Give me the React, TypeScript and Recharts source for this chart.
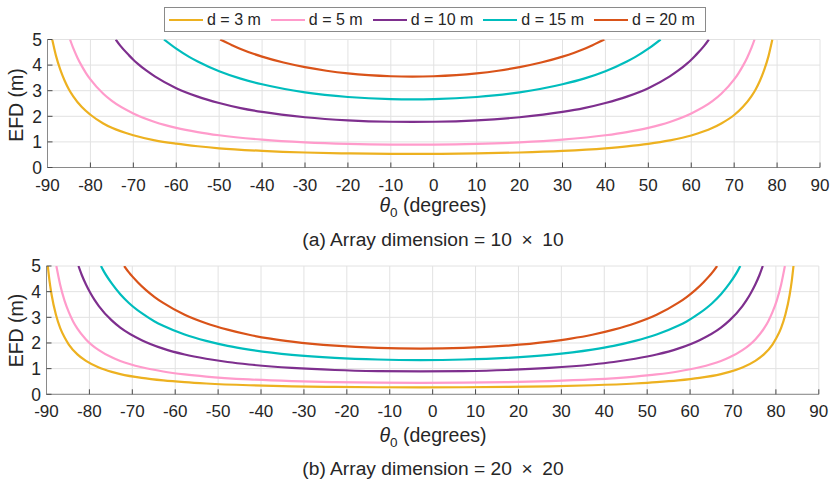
import React from 'react';
import { LineChart, Line, XAxis, YAxis, CartesianGrid } from 'recharts';

const X_TICKS = [-90, -80, -70, -60, -50, -40, -30, -20, -10, 0, 10, 20, 30, 40, 50, 60, 70, 80, 90];
const Y_TICKS = [0, 1, 2, 3, 4, 5];

const SERIES_NAMES = ['d = 3 m', 'd = 5 m', 'd = 10 m', 'd = 15 m', 'd = 20 m'];
const SERIES_COLORS = ['#EDB120', '#FF9BCB', '#7E2F8E', '#00BDBD', '#D95319'];

// Panel (a): array 10 x 10 — [theta0 (deg), EFD (m)]
const A_D3: [number, number][] = [
  [-88.9, 5], [-88, 4.35], [-87, 3.81], [-86, 3.39], [-85, 3.05], [-84, 2.78], [-82, 2.36], [-80, 2.06],
  [-77, 1.72], [-75, 1.55], [-70, 1.26], [-65, 1.06], [-60, 0.93], [-55, 0.83], [-50, 0.75], [-40, 0.65],
  [-30, 0.585], [-20, 0.55], [-10, 0.532], [-5, 0.53], [0, 0.532], [10, 0.55], [20, 0.585], [30, 0.647],
  [40, 0.75], [45, 0.825], [50, 0.924], [55, 1.06], [60, 1.25], [65, 1.55], [67, 1.72], [70, 2.05],
  [72, 2.36], [74, 2.78], [75, 3.05], [76, 3.39], [77, 3.81], [78, 4.35], [78.9, 5],
];
const A_D5: [number, number][] = [
  [-84.75, 5], [-84, 4.66], [-83, 4.28], [-82, 3.96], [-81, 3.68], [-80, 3.44], [-77, 2.88], [-75, 2.6],
  [-70, 2.11], [-65, 1.78], [-60, 1.55], [-55, 1.385], [-50, 1.259], [-40, 1.087], [-30, 0.982], [-20, 0.921],
  [-10, 0.893], [-5, 0.89], [0, 0.893], [10, 0.921], [20, 0.982], [30, 1.087], [40, 1.259], [45, 1.385],
  [50, 1.55], [55, 1.78], [60, 2.11], [65, 2.6], [67, 2.88], [70, 3.44], [71, 3.68], [72, 3.96], [73, 4.28],
  [74, 4.66], [74.75, 5],
];
const A_D10: [number, number][] = [
  [-74.1, 5], [-73, 4.75], [-71, 4.38], [-70, 4.21], [-69, 4.06], [-67, 3.79], [-65, 3.56], [-60, 3.1],
  [-55, 2.77], [-50, 2.52], [-45, 2.32], [-40, 2.17], [-30, 1.964], [-20, 1.843], [-10, 1.787], [-5, 1.78],
  [0, 1.787], [10, 1.843], [20, 1.964], [30, 2.17], [35, 2.32], [40, 2.52], [45, 2.77], [50, 3.1], [55, 3.56],
  [57, 3.79], [59, 4.06], [60, 4.21], [61, 4.38], [63, 4.75], [64.1, 5],
];
const A_D15: [number, number][] = [
  [-62.86, 5], [-60, 4.64], [-57, 4.32], [-55, 4.14], [-50, 3.76], [-45, 3.47], [-40, 3.25], [-30, 2.935],
  [-20, 2.754], [-10, 2.67], [-5, 2.66], [0, 2.67], [10, 2.754], [20, 2.935], [30, 3.25], [35, 3.47],
  [40, 3.76], [45, 4.14], [47, 4.32], [50, 4.64], [52.86, 5],
];
const A_D20: [number, number][] = [
  [-49.77, 5], [-47, 4.78], [-45, 4.63], [-40, 4.33], [-35, 4.1], [-30, 3.92], [-25, 3.78], [-20, 3.675],
  [-10, 3.564], [-5, 3.55], [0, 3.564], [10, 3.675], [15, 3.78], [20, 3.92], [25, 4.1], [30, 4.33],
  [35, 4.63], [37, 4.78], [39.77, 5],
];

// Panel (b): array 20 x 20
const B_D3: [number, number][] = [
  [-89.7, 5], [-89.3, 4.42], [-88.8, 3.87], [-87.8, 3.1], [-86.8, 2.58], [-85.8, 2.22], [-84.8, 1.94],
  [-82.8, 1.555], [-80.8, 1.3], [-77.8, 1.043], [-74.8, 0.874], [-72.8, 0.789], [-67.8, 0.639], [-62.8, 0.54],
  [-57.8, 0.471], [-52.8, 0.42], [-42.8, 0.352], [-32.8, 0.312], [-22.8, 0.287], [-12.8, 0.274], [-2.8, 0.27],
  [7.2, 0.274], [17.2, 0.287], [27.2, 0.312], [37.2, 0.352], [47.2, 0.42], [52.2, 0.471], [57.2, 0.54],
  [62.2, 0.639], [67.2, 0.789], [69.2, 0.874], [72.2, 1.043], [75.2, 1.3], [77.2, 1.555], [79.2, 1.94],
  [80.2, 2.22], [81.2, 2.58], [82.2, 3.1], [83.2, 3.87], [83.7, 4.42], [84.1, 5],
];
const B_D5: [number, number][] = [
  [-87.7, 5], [-86.8, 4.26], [-85.8, 3.65], [-84.8, 3.2], [-83.8, 2.84], [-82.8, 2.56], [-80.8, 2.14],
  [-77.8, 1.72], [-74.8, 1.44], [-72.8, 1.3], [-67.8, 1.053], [-62.8, 0.89], [-57.8, 0.776], [-52.8, 0.692],
  [-42.8, 0.581], [-32.8, 0.514], [-22.8, 0.474], [-12.8, 0.452], [-2.8, 0.445], [7.2, 0.452], [17.2, 0.474],
  [27.2, 0.514], [37.2, 0.581], [47.2, 0.692], [52.2, 0.776], [57.2, 0.89], [62.2, 1.053], [67.2, 1.3],
  [69.2, 1.44], [72.2, 1.72], [75.2, 2.14], [77.2, 2.56], [78.2, 2.84], [79.2, 3.2], [80.2, 3.65],
  [81.2, 4.26], [82.1, 5],
];
const B_D10: [number, number][] = [
  [-82.55, 5], [-81.8, 4.66], [-80.8, 4.28], [-79.8, 3.96], [-78.8, 3.68], [-77.8, 3.44], [-74.8, 2.88],
  [-72.8, 2.6], [-67.8, 2.11], [-62.8, 1.78], [-57.8, 1.55], [-52.8, 1.385], [-47.8, 1.259], [-42.8, 1.162],
  [-32.8, 1.028], [-22.8, 0.947], [-12.8, 0.904], [-2.8, 0.89], [7.2, 0.904], [17.2, 0.947], [27.2, 1.028],
  [37.2, 1.162], [42.2, 1.259], [47.2, 1.385], [52.2, 1.55], [57.2, 1.78], [62.2, 2.11], [67.2, 2.6],
  [69.2, 2.88], [72.2, 3.44], [73.2, 3.68], [74.2, 3.96], [75.2, 4.28], [76.2, 4.66], [76.95, 5],
];
const B_D15: [number, number][] = [
  [-77.3, 5], [-76.8, 4.84], [-74.8, 4.32], [-72.8, 3.9], [-70.8, 3.56], [-67.8, 3.16], [-64.8, 2.84],
  [-62.8, 2.67], [-57.8, 2.33], [-52.8, 2.08], [-47.8, 1.888], [-42.8, 1.743], [-32.8, 1.54], [-22.8, 1.42],
  [-12.8, 1.356], [-2.8, 1.335], [7.2, 1.356], [17.2, 1.42], [27.2, 1.54], [37.2, 1.743], [42.2, 1.888],
  [47.2, 2.08], [52.2, 2.33], [57.2, 2.67], [59.2, 2.84], [62.2, 3.16], [65.2, 3.56], [67.2, 3.9],
  [69.2, 4.32], [71.2, 4.84], [71.7, 5],
];
const B_D20: [number, number][] = [
  [-71.9, 5], [-70.8, 4.75], [-68.8, 4.38], [-66.8, 4.06], [-64.8, 3.79], [-62.8, 3.56], [-57.8, 3.1],
  [-52.8, 2.77], [-47.8, 2.52], [-42.8, 2.32], [-37.8, 2.17], [-32.8, 2.055], [-22.8, 1.894], [-12.8, 1.807],
  [-2.8, 1.78], [7.2, 1.807], [17.2, 1.894], [27.2, 2.055], [32.2, 2.17], [37.2, 2.32], [42.2, 2.52],
  [47.2, 2.77], [52.2, 3.1], [57.2, 3.56], [59.2, 3.79], [61.2, 4.06], [63.2, 4.38], [65.2, 4.75], [66.3, 5],
];

const PANEL_A = [A_D3, A_D5, A_D10, A_D15, A_D20];
const PANEL_B = [B_D3, B_D5, B_D10, B_D15, B_D20];

const FONT = '"Liberation Sans", Arial, Helvetica, sans-serif';
const TXT = '#262626';
const BOX = '#8a8a8a';
const TICKC = '#4a4a4a';
const GRID = '#e2e2e2';

const toPts = (a: [number, number][]) => a.map(([t, v]) => ({ t, v }));

type PanelProps = {
  series: [number, number][][];
  height: number;
  margin: { top: number; right: number; bottom: number; left: number };
};

const Y_AXIS_W = 40;

function Panel({ series, height, margin }: PanelProps) {
  return (
    <LineChart width={830} height={height} margin={{ ...margin, left: margin.left - Y_AXIS_W }}>
      <CartesianGrid stroke={GRID} strokeWidth={1} />
      <XAxis
        dataKey="t"
        type="number"
        domain={[-90, 90]}
        ticks={X_TICKS}
        interval={0}
        allowDataOverflow
        height={30}
        tickSize={-5}
        tickMargin={16}
        axisLine={{ stroke: BOX }}
        tickLine={{ stroke: TICKC }}
        tick={{ fill: TXT, fontSize: 17, fontFamily: FONT }}
      />
      <XAxis
        xAxisId="top"
        orientation="top"
        type="number"
        domain={[-90, 90]}
        ticks={X_TICKS}
        interval={0}
        allowDataOverflow
        height={0}
        tickSize={-5}
        tick={false}
        axisLine={{ stroke: BOX }}
        tickLine={{ stroke: TICKC }}
      />
      <YAxis
        type="number"
        domain={[0, 5]}
        ticks={Y_TICKS}
        interval={0}
        allowDataOverflow
        width={Y_AXIS_W}
        tickSize={-5}
        tickMargin={10.5}
        axisLine={{ stroke: BOX }}
        tickLine={{ stroke: TICKC }}
        tick={{ fill: TXT, fontSize: 17.5, fontFamily: FONT }}
      />
      <YAxis
        yAxisId="right"
        orientation="right"
        type="number"
        domain={[0, 5]}
        ticks={Y_TICKS}
        interval={0}
        allowDataOverflow
        width={0}
        tickSize={-5}
        tick={false}
        axisLine={{ stroke: BOX }}
        tickLine={{ stroke: TICKC }}
      />
      {series.map((s, i) => (
        <Line
          key={SERIES_NAMES[i]}
          data={toPts(s)}
          dataKey="v"
          name={SERIES_NAMES[i]}
          type="monotone"
          stroke={SERIES_COLORS[i]}
          strokeWidth={2.2}
          dot={false}
          activeDot={false}
          isAnimationActive={false}
        />
      ))}
    </LineChart>
  );
}

function LegendBox() {
  return (
    <div
      style={{
        position: 'absolute',
        left: 164,
        top: 7,
        width: 536,
        height: 23,
        border: `1px solid ${BOX}`,
        background: '#fff',
        display: 'flex',
        alignItems: 'center',
        paddingLeft: 4,
        boxSizing: 'content-box',
        fontFamily: FONT,
        fontSize: 16,
        color: TXT,
        whiteSpace: 'nowrap',
      }}
    >
      {SERIES_NAMES.map((n, i) => (
        <div key={n} style={{ display: 'flex', alignItems: 'center', marginRight: 10 }}>
          <svg width={34} height={4} style={{ display: 'block' }}>
            <line x1={0} y1={2} x2={34} y2={2} stroke={SERIES_COLORS[i]} strokeWidth={2.2} />
          </svg>
          <span style={{ marginLeft: 4 }}>{n}</span>
        </div>
      ))}
    </div>
  );
}

function ThetaLabel({ y }: { y: number }) {
  return (
    <text x={433} y={y} textAnchor="middle" fontFamily={FONT} fontSize={19.5} fill={TXT}>
      <tspan fontStyle="italic">θ</tspan>
      <tspan fontSize={13.5} dy={5}>0</tspan>
      <tspan dy={-5}> (degrees)</tspan>
    </text>
  );
}

function EfdLabel({ cy }: { cy: number }) {
  return (
    <text
      x={23}
      y={cy}
      transform={`rotate(-90 23 ${cy})`}
      textAnchor="middle"
      fontFamily={FONT}
      fontSize={19.5}
      fill={TXT}
    >
      EFD (m)
    </text>
  );
}

export default function App() {
  return (
    <div
      style={{
        position: 'absolute',
        left: 0,
        top: 0,
        width: 830,
        height: 486,
        background: '#fff',
        overflow: 'hidden',
      }}
    >
      <div style={{ position: 'absolute', left: 0, top: 0 }}>
        <Panel series={PANEL_A} height={250} margin={{ top: 39.5, right: 10, bottom: 52.5, left: 47.5 }} />
      </div>
      <div style={{ position: 'absolute', left: 0, top: 250 }}>
        <Panel series={PANEL_B} height={236} margin={{ top: 16, right: 11.2, bottom: 61.7, left: 46.5 }} />
      </div>
      <svg
        width={830}
        height={486}
        style={{ position: 'absolute', left: 0, top: 0, pointerEvents: 'none' }}
      >
        <EfdLabel cy={105} />
        <EfdLabel cy={330.5} />
        <ThetaLabel y={212} />
        <ThetaLabel y={442} />
        <text x={433} y={245.5} textAnchor="middle" fontFamily={FONT} fontSize={19.2} fill={TXT}>
          (a) Array dimension = 10{'\u2002×\u2002'}10
        </text>
        <text x={433} y={474.5} textAnchor="middle" fontFamily={FONT} fontSize={19.2} fill={TXT}>
          (b) Array dimension = 20{'\u2002×\u2002'}20
        </text>
      </svg>
      <LegendBox />
    </div>
  );
}
